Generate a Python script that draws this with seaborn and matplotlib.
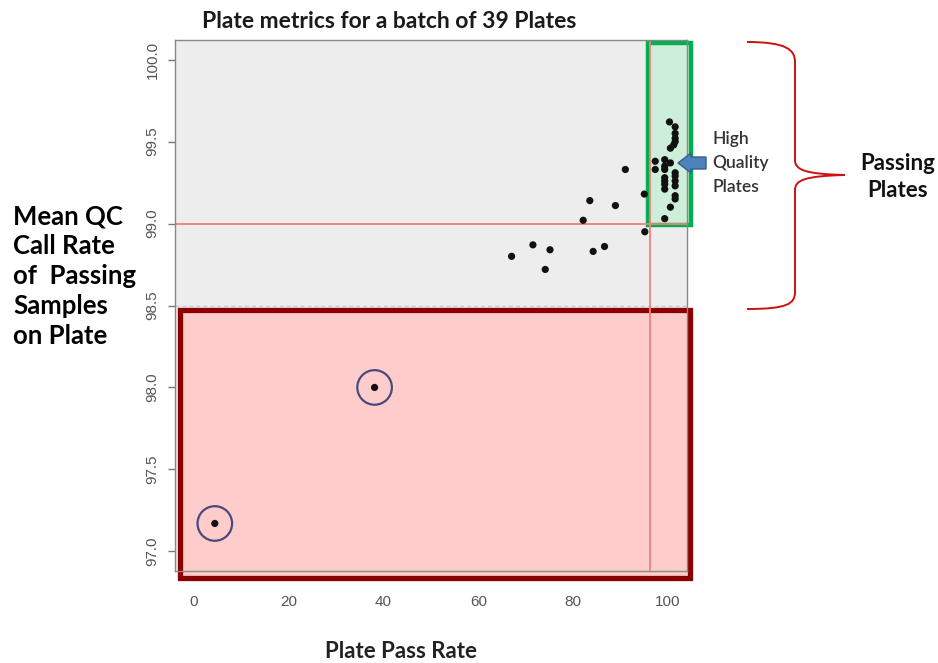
import matplotlib
matplotlib.use("Agg")
import matplotlib.pyplot as plt
import seaborn as sns
import pandas as pd
from matplotlib.patches import Rectangle, Polygon, PathPatch
from matplotlib.path import Path

# plate pass rate (%) and mean QC call rate of passing samples, one entry per plate
pass_rate = [100.3, 101.5, 101.5, 101.5, 101.5, 101.2, 100.5, 97.3, 97.3, 99.3,
             100.5, 99.3, 101.5, 101.5, 99.3, 99.3, 99.3, 99.3, 101.5, 101.5,
             101.5, 100.5, 99.3, 99.3, 101.5,
             91.0, 95.0, 83.5, 88.9, 82.1, 95.1, 71.5, 75.1, 67.0, 84.2,
             86.6, 74.1, 4.4, 38.1]
call_rate = [99.62, 99.59, 99.55, 99.52, 99.50, 99.48, 99.46, 99.38, 99.33, 99.39,
             99.37, 99.33, 99.31, 99.29, 99.28, 99.26, 99.24, 99.21, 99.23, 99.17,
             99.15, 99.10, 99.03, 99.35, 99.26,
             99.33, 99.18, 99.14, 99.11, 99.02, 98.95, 98.87, 98.84, 98.80, 98.83,
             98.86, 98.72, 97.17, 98.00]

pass_cut = 96.3
call_cut = 99.0
fail_cut = 98.5

x_ticks = [0, 20, 40, 60, 80, 100]
y_ticks = [97.0, 97.5, 98.0, 98.5, 99.0, 99.5, 100.0]

df = pd.DataFrame({"pass_rate": pass_rate, "call_rate": call_rate})
failing = df[df["call_rate"] < fail_cut]

sns.set_style("white")
plt.rcParams["font.family"] = ["Liberation Sans", "DejaVu Sans"]

W, H = 938, 663
fig = plt.figure(figsize=(W / 100, H / 100), dpi=100)
ax = fig.add_axes([175 / W, 1 - 571 / H, (687 - 175) / W, (571 - 40) / H])
ax.set_facecolor("#ededed")

ax.set_xlim(-4, 104)
ax.set_ylim(96.88, 100.12)

# failing plates region
ax.add_patch(Rectangle((-3.0, 96.835), 107.6, fail_cut - 0.03 - 96.835,
                       facecolor="#ffcccc", edgecolor="#8b0000", lw=3.8,
                       clip_on=False, zorder=1))
# high quality region
ax.add_patch(Rectangle((95.8, 98.99), 9.1, 100.10 - 98.99,
                       facecolor="#cdeed9", edgecolor="#00b050", lw=3.2,
                       clip_on=False, zorder=1))

ax.axhline(fail_cut, color="#c8c8d8", lw=1, ls=(0, (3, 2)), zorder=1.5)
ax.axhline(call_cut, color="#f08080", lw=1.3, zorder=1.6)
ax.axvline(pass_cut, color="#f08080", lw=1.3, zorder=1.6)

sns.scatterplot(data=df, x="pass_rate", y="call_rate", ax=ax, color="#111111",
                s=27, edgecolor="none", zorder=3, legend=False)
sns.scatterplot(data=failing, x="pass_rate", y="call_rate", ax=ax, s=620,
                facecolor="none", edgecolor="#4a4a7a", linewidth=1.6,
                zorder=3, legend=False)

ax.set_xticks(x_ticks)
ax.set_yticks(y_ticks)
ax.set_xticklabels([str(t) for t in x_ticks], color="#555555", fontsize=11)
ax.set_yticklabels([f"{t:.1f}" for t in y_ticks], color="#555555", fontsize=11,
                   rotation=90, va="center")
ax.tick_params(axis="both", direction="out", length=5, width=1, color="#777777",
               bottom=True, left=True, pad=6)
ax.tick_params(axis="x", pad=12)
ax.set_xlabel("")
ax.set_ylabel("")
for sp in ax.spines.values():
    sp.set_color("#888888")
    sp.set_linewidth(1)

# overlay in pixel coordinates for the annotations
ov = fig.add_axes([0, 0, 1, 1], facecolor="none")
ov.set_xlim(0, W)
ov.set_ylim(H, 0)
ov.axis("off")

ov.text(389, 22, "Plate metrics for a batch of 39 Plates", fontsize=16.5,
        family="Lato", fontweight="bold", ha="center", va="center", color="#1a1a1a")
ov.text(13, 276, "Mean QC\nCall Rate\nof  Passing\nSamples\non Plate", fontsize=18.5,
        family="Lato", fontweight="bold", ha="left", va="center",
        linespacing=1.3, color="#000000")
ov.text(401, 652, "Plate Pass Rate", fontsize=16, family="Lato",
        fontweight="bold", ha="center", va="center", color="#222222")
ov.text(712, 163, "High\nQuality\nPlates", fontsize=12.5, family="Lato",
        fontweight="semibold", ha="left", va="center", linespacing=1.6,
        color="#333333")
ov.text(898, 177, "Passing\nPlates", fontsize=16, family="Lato",
        fontweight="bold", ha="center", va="center", linespacing=1.35,
        color="#111111")

ov.add_patch(Polygon([(678, 163), (691, 153), (691, 157), (706, 157),
                      (706, 169), (691, 169), (691, 173)], closed=True,
                     facecolor="#4f81bd", edgecolor="#385d8a", lw=1))

verts = [(747, 42), (787, 42), (795, 50), (795, 62),
         (795, 160),
         (795, 170), (805, 174), (845, 175),
         (805, 176), (795, 180), (795, 190),
         (795, 292),
         (795, 304), (787, 309), (747, 309)]
codes = [Path.MOVETO, Path.CURVE4, Path.CURVE4, Path.CURVE4,
         Path.LINETO,
         Path.CURVE4, Path.CURVE4, Path.CURVE4,
         Path.CURVE4, Path.CURVE4, Path.CURVE4,
         Path.LINETO,
         Path.CURVE4, Path.CURVE4, Path.CURVE4]
ov.add_patch(PathPatch(Path(verts, codes), facecolor="none",
                       edgecolor="#cc1111", lw=1.4))

fig.savefig("out.png", dpi=100)
